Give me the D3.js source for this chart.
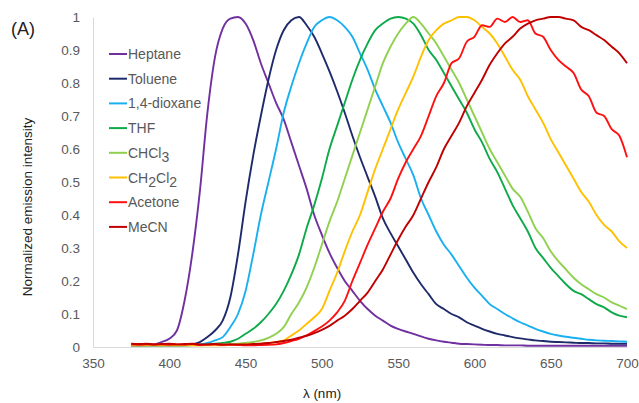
<!DOCTYPE html>
<html>
<head>
<meta charset="utf-8">
<script src="https://cdn.jsdelivr.net/npm/d3@7"></script>
<style>
  html, body { margin: 0; padding: 0; background: #fff; }
  svg { display: block; }
  text { font-family: "Liberation Sans", Arial, sans-serif; }
</style>
</head>
<body>
<svg id="chart" width="639" height="403"></svg>
<script>
// ---- data ----
const wavelengths = [
  375,380,385,390,395,400,405,410,415,420,
  425,430,435,440,445,450,455,460,465,470,
  475,480,485,490,495,500,505,510,515,520,
  525,530,535,540,545,550,555,560,565,570,
  575,580,585,590,595,600,605,610,615,620,
  625,630,635,640,645,650,655,660,665,670,
  675,680,685,690,695,700
];
const solvents = ["Heptane","Toluene","1,4-dioxane","THF","CHCl3","CH2Cl2","Acetone","MeCN"];
const heptane = [
  .005,.005,.006,.008,.015,.025,.05,.14,.28,.47,
  .71,.88,.965,.995,1.0,.98,.93,.86,.80,.74,
  .69,.62,.55,.48,.40,.34,.285,.24,.20,.17,
  .14,.115,.095,.08,.065,.055,.047,.04,.032,.025,
  .02,.016,.013,.01,.009,.008,.007,.006,.006,.005,
  .005,.005,.004,.004,.004,.004,.004,.004,.004,.004,
  .004,.004,.004,.004,.004,.004
];
const toluene = [
  .005,.005,.005,.005,.005,.005,.005,.006,.008,.015,
  .03,.05,.08,.15,.28,.44,.58,.70,.81,.90,
  .96,.99,1.0,.975,.94,.89,.835,.775,.71,.64,
  .575,.515,.455,.39,.345,.305,.265,.225,.19,.16,
  .13,.115,.10,.09,.075,.065,.055,.047,.04,.035,
  .03,.026,.023,.02,.018,.016,.015,.014,.013,.012,
  .012,.011,.011,.01,.01,.01
];
const dioxane = [
  .005,.005,.005,.005,.005,.005,.005,.005,.006,.008,
  .012,.02,.03,.06,.10,.17,.28,.40,.50,.60,
  .71,.79,.86,.92,.97,.99,1.0,.99,.97,.94,
  .89,.84,.78,.73,.68,.62,.57,.52,.45,.40,
  .35,.31,.28,.245,.21,.18,.155,.13,.115,.10,
  .087,.075,.065,.055,.047,.04,.035,.031,.028,.025,
  .022,.02,.019,.018,.017,.016
];
const thf = [
  .005,.005,.005,.005,.005,.005,.005,.005,.006,.007,
  .008,.01,.012,.016,.025,.04,.055,.075,.10,.13,
  .17,.22,.28,.36,.43,.51,.60,.67,.74,.81,
  .87,.92,.96,.98,.995,1.0,.995,.98,.945,.90,
  .87,.83,.79,.75,.71,.66,.62,.57,.53,.48,
  .43,.39,.35,.30,.27,.24,.215,.19,.17,.16,
  .145,.13,.12,.105,.095,.09
];
const chcl3 = [
  .005,.005,.005,.005,.005,.005,.005,.005,.005,.005,
  .006,.007,.008,.009,.01,.012,.015,.02,.028,.04,
  .06,.10,.135,.18,.24,.31,.38,.44,.51,.58,
  .65,.72,.79,.86,.91,.95,.98,1.0,.98,.95,
  .92,.88,.84,.80,.75,.70,.65,.60,.56,.52,
  .48,.455,.41,.36,.33,.29,.26,.235,.21,.19,
  .175,.16,.15,.135,.125,.115
];
const ch2cl2 = [
  .005,.005,.005,.005,.005,.005,.005,.005,.005,.005,
  .005,.005,.005,.006,.007,.008,.009,.01,.012,.015,
  .02,.035,.05,.07,.09,.115,.17,.225,.29,.35,
  .40,.47,.54,.60,.66,.72,.77,.82,.88,.93,
  .96,.98,.99,1.0,1.0,.99,.97,.95,.92,.88,
  .84,.81,.76,.72,.68,.63,.59,.55,.51,.47,
  .44,.40,.37,.35,.32,.30
];
const acetone = [
  .008,.007,.008,.007,.008,.007,.008,.007,.009,.006,
  .007,.008,.006,.007,.006,.005,.005,.006,.007,.008,
  .012,.018,.025,.035,.048,.062,.08,.105,.14,.20,
  .255,.31,.36,.41,.45,.51,.56,.60,.64,.70,
  .76,.80,.86,.875,.925,.94,.975,.97,.995,.985,
  1.0,.985,.99,.95,.94,.90,.87,.85,.83,.78,
  .76,.71,.70,.66,.64,.575
];
const mecn = [
  .01,.009,.01,.008,.009,.01,.008,.009,.01,.008,
  .008,.009,.008,.008,.008,.008,.009,.01,.012,.015,
  .018,.022,.028,.034,.042,.052,.064,.08,.095,.115,
  .14,.165,.20,.235,.28,.325,.365,.40,.45,.50,
  .545,.60,.64,.68,.73,.77,.81,.855,.89,.92,
  .94,.965,.98,.99,.995,1.0,1.0,.995,.99,.97,
  .96,.945,.93,.91,.89,.86
];
const seriesValues = [heptane, toluene, dioxane, thf, chcl3, ch2cl2, acetone, mecn];
const colors = ["#7030A0","#1F2A6B","#1AB0F0","#0EAA4A","#8FD14F","#FFC000","#FF1010","#C00000"];
const xTicks = [350,400,450,500,550,600,650,700];
const yTicks = [0,0.1,0.2,0.3,0.4,0.5,0.6,0.7,0.8,0.9,1];

// ---- drawing ----
const svg = d3.select("#chart");
const x = d3.scaleLinear().domain([350,700]).range([93,627]);
const y = d3.scaleLinear().domain([0,1]).range([347,17]);
const labelColor = "#595959";
const fontFam = '"Liberation Sans", Arial, sans-serif';

// axes
const yAxis = d3.axisLeft(y).tickValues(yTicks).tickSize(0).tickPadding(13)
  .tickFormat(d => (d === 0 || d === 1) ? String(d) : d3.format(".1f")(d));
const gy = svg.append("g").attr("transform", "translate(93,0)").call(yAxis);
gy.select(".domain").attr("stroke", "#D9D9D9").attr("stroke-width", 1);
gy.selectAll("text").attr("fill", labelColor).style("font-size", "13.5px").style("font-family", fontFam);

const xAxis = d3.axisBottom(x).tickValues(xTicks).tickSize(0).tickPadding(11).tickFormat(d3.format("d"));
const gx = svg.append("g").attr("transform", "translate(0,347)").call(xAxis);
gx.select(".domain").attr("stroke", "#D9D9D9").attr("stroke-width", 1);
gx.selectAll("text").attr("fill", labelColor).style("font-size", "13.5px").style("font-family", fontFam);

// axis titles
svg.append("text").attr("x", 322).attr("y", 398).attr("text-anchor", "middle")
  .attr("fill", "#222").style("font-size", "13.5px").text("λ (nm)");
svg.append("text").attr("transform", "translate(32,207) rotate(-90)").attr("text-anchor", "middle")
  .attr("fill", "#222").style("font-size", "13.5px").text("Normalized emission intensity");

// panel label
svg.append("text").attr("x", 11).attr("y", 35).attr("fill", "#222")
  .style("font-size", "18px").text("(A)");

// lines
const line = d3.line().x((d, i) => x(wavelengths[i])).y(d => y(d)).curve(d3.curveMonotoneX);
svg.append("g").selectAll("path").data(seriesValues).join("path")
  .attr("d", d => line(d))
  .attr("fill", "none")
  .attr("stroke", (d, i) => colors[i])
  .attr("stroke-width", 1.9)
  .attr("stroke-linejoin", "round");

// legend
const legend = svg.append("g");
const legendRows = legend.selectAll("g").data(solvents).join("g")
  .attr("transform", (d, i) => `translate(0,${54 + i * 24.7})`);
legendRows.append("line").attr("x1", 109).attr("x2", 127).attr("y1", 0).attr("y2", 0)
  .attr("stroke", (d, i) => colors[i]).attr("stroke-width", 2);
legendRows.append("text").attr("x", 128).attr("y", 5).attr("fill", labelColor)
  .style("font-size", "14px")
  .each(function(d) {
    const t = d3.select(this);
    if (d === "CHCl3" || d === "CH2Cl2") {
      const parts = d.match(/[A-Za-z]+|\d+/g);
      let shifted = false;
      parts.forEach(p => {
        const isNum = /^\d+$/.test(p);
        const sp = t.append("tspan").text(p);
        if (isNum && !shifted) { sp.attr("dy", 4); shifted = true; }
        else if (!isNum && shifted) { sp.attr("dy", -4); shifted = false; }
      });
    } else {
      t.text(d);
    }
  });
</script>
</body>
</html>
